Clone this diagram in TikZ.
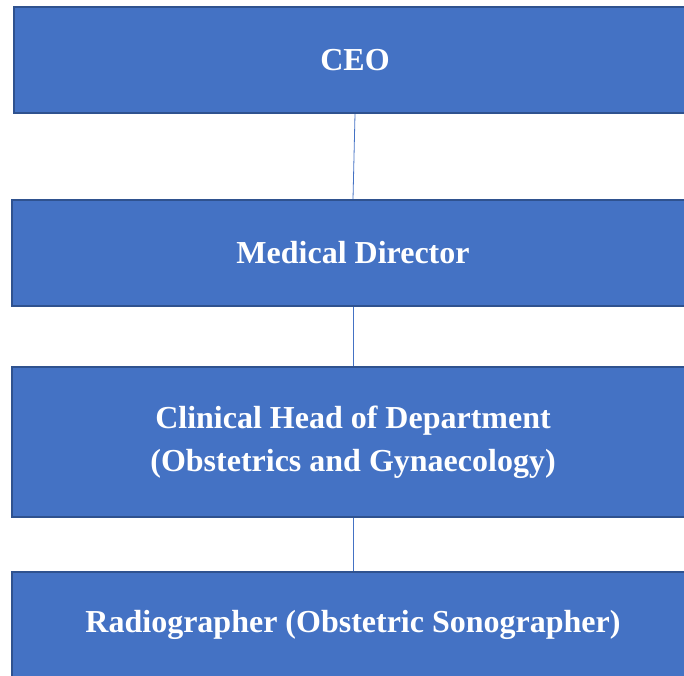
\documentclass[tikz,border=0pt]{standalone}
\usepackage{fontspec}
\setmainfont{Liberation Serif}
\definecolor{cajafondo}{HTML}{4472C4}
\definecolor{cajaborde}{HTML}{2F528F}
\tikzset{
  cargo/.style={draw=cajaborde, line width=2pt, fill=cajafondo, text=white,
    font=\fontsize{32}{43}\selectfont\bfseries, align=center,
    minimum width=682pt, inner sep=0pt},
  enlace/.style={draw=cajafondo, line width=0.8pt}
}
\begin{document}
\begin{tikzpicture}[x=1pt,y=1pt]
    \useasboundingbox (0,0) rectangle (684,675);
    \clip (0,0) rectangle (684,675);

    \node[cargo, minimum height=106pt] (ceo) at (355,615) {CEO};
    \node[cargo, minimum height=106pt] (medico) at (353,422) {Medical Director};
    \node[cargo, minimum height=150pt] (jefe) at (353,233)
        {Clinical Head of Department\\(Obstetrics and Gynaecology)};
    \node[cargo, minimum height=106pt] (radio) at (353,50)
        {Radiographer (Obstetric Sonographer)};

    \draw[enlace] (ceo.south) -- (medico.north);
    \draw[enlace] (medico.south) -- (jefe.north);
    \draw[enlace] (jefe.south) -- (radio.north);
\end{tikzpicture}
\end{document}
